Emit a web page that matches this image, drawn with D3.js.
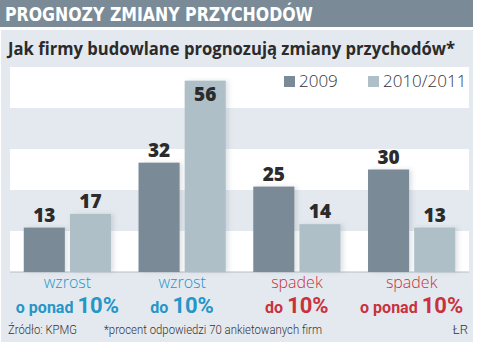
<!DOCTYPE html>
<html>
<head>
<meta charset="utf-8">
<script src="https://cdn.jsdelivr.net/npm/d3@7"></script>
<style>
  body { margin: 0; background: #ffffff; }
  svg { display: block; }
</style>
</head>
<body>
<div id="chart"></div>
<script>
// Revenue forecasts of construction firms (% of answers)
const categories = ["wzrost|o ponad", "wzrost|do", "spadek|do", "spadek|o ponad"];
const catTop = ["wzrost", "wzrost", "spadek", "spadek"];
const catBottom = ["o ponad", "do", "do", "o ponad"];
const catColors = ["#2496c8", "#2496c8", "#c9323d", "#c9323d"];
const seriesNames = ["2009", "2010/2011"];
const values2009 = [13, 32, 25, 30];
const values2010 = [17, 56, 14, 13];
const bandTicks = [0, 12, 24, 36, 48, 60];

const width = 478, height = 346;
const plot = { left: 10, right: 469, top: 67, bottom: 272 };
const seriesColors = ["#7a8b97", "#aebfc8"];

const svg = d3.select("#chart")
  .append("svg")
  .attr("width", width)
  .attr("height", height);

// soft shadow to the right of the bars
const defs = svg.append("defs");
const shadow = defs.append("filter")
  .attr("id", "bar-shadow")
  .attr("x", "-20%").attr("y", "-20%")
  .attr("width", "150%").attr("height", "140%");
shadow.append("feDropShadow")
  .attr("dx", 3).attr("dy", 0)
  .attr("stdDeviation", 2)
  .attr("flood-color", "#5a6b78")
  .attr("flood-opacity", 0.18);

// header bar
svg.append("rect")
  .attr("x", 0).attr("y", 0)
  .attr("width", 473).attr("height", 27)
  .attr("fill", "#7a8b97");

svg.append("text")
  .attr("x", 5).attr("y", 21)
  .attr("textLength", 308)
  .attr("lengthAdjust", "spacingAndGlyphs")
  .style("font-family", "'DejaVu Sans Condensed', 'Liberation Sans Narrow', sans-serif")
  .style("font-weight", "bold")
  .style("font-size", "20px")
  .style("fill", "#ffffff")
  .text("PROGNOZY ZMIANY PRZYCHODÓW");

// background panel
svg.append("rect")
  .attr("x", 1).attr("y", 30)
  .attr("width", 472).attr("height", 312)
  .attr("fill", "#e4e9ef");

svg.append("text")
  .attr("x", 8).attr("y", 55)
  .attr("textLength", 447)
  .attr("lengthAdjust", "spacingAndGlyphs")
  .style("font-family", "'Open Sans', 'DejaVu Sans', sans-serif")
  .style("font-weight", 700)
  .style("font-size", "17px")
  .style("fill", "#2b2b2b")
  .text("Jak firmy budowlane prognozują zmiany przychodów*");

// scales
const y = d3.scaleLinear()
  .domain([0, 60])
  .range([plot.bottom, plot.top]);

const x0 = d3.scaleBand()
  .domain(categories)
  .range([plot.left, plot.right])
  .paddingInner(0.24)
  .paddingOuter(0.12);

const x1 = d3.scaleBand()
  .domain(seriesNames)
  .range([0, x0.bandwidth()])
  .paddingInner(0.11);

// alternating horizontal bands
svg.append("g")
  .selectAll("rect")
  .data(d3.pairs(bandTicks))
  .join("rect")
  .attr("x", plot.left)
  .attr("width", plot.right - plot.left)
  .attr("y", d => y(d[1]))
  .attr("height", d => y(d[0]) - y(d[1]))
  .attr("fill", (d, i) => (i % 2 === 0 ? "#ffffff" : "#e4e9ef"));

// baseline
svg.append("line")
  .attr("x1", plot.left).attr("x2", plot.right)
  .attr("y1", y(0)).attr("y2", y(0))
  .attr("stroke", "#b4bec6")
  .attr("stroke-width", 1);

// bars
const rows = categories.map((c, i) => ({
  cat: c,
  vals: [
    { key: seriesNames[0], v: values2009[i], color: seriesColors[0] },
    { key: seriesNames[1], v: values2010[i], color: seriesColors[1] }
  ]
}));

const groups = svg.append("g")
  .selectAll("g")
  .data(rows)
  .join("g")
  .attr("transform", d => `translate(${x0(d.cat)},0)`);

groups.selectAll("rect")
  .data(d => d.vals)
  .join("rect")
  .attr("x", d => x1(d.key))
  .attr("width", x1.bandwidth())
  .attr("y", d => y(d.v))
  .attr("height", d => y(0) - y(d.v))
  .attr("fill", d => d.color)
  .attr("filter", "url(#bar-shadow)");

// value labels; a label that would leave the plot goes inside the bar
groups.selectAll("text")
  .data(d => d.vals)
  .join("text")
  .attr("x", d => x1(d.key) + x1.bandwidth() / 2)
  .attr("y", d => (y(d.v) - 20 < plot.top ? y(d.v) + 20 : y(d.v) - 6))
  .attr("text-anchor", "middle")
  .style("font-family", "'Open Sans', 'DejaVu Sans', sans-serif")
  .style("font-weight", 800)
  .style("font-size", "19px")
  .style("fill", "#2b2b2b")
  .text(d => d.v);

// legend
const legend = svg.append("g")
  .selectAll("g")
  .data(seriesNames)
  .join("g")
  .attr("transform", (d, i) => `translate(${[284, 368][i]},76)`);

legend.append("rect")
  .attr("width", 11).attr("height", 11)
  .attr("fill", (d, i) => seriesColors[i]);

legend.append("text")
  .attr("x", 15).attr("y", 11)
  .style("font-family", "'Open Sans', 'DejaVu Sans', sans-serif")
  .style("font-weight", 300)
  .style("font-size", "17px")
  .style("fill", "#333333")
  .text(d => d);

// category labels
const catLabels = svg.append("g")
  .selectAll("g")
  .data(categories)
  .join("g")
  .attr("transform", d => `translate(${x0(d) + x0.bandwidth() / 2},0)`);

catLabels.append("text")
  .attr("y", 288)
  .attr("text-anchor", "middle")
  .style("font-family", "'Open Sans', 'DejaVu Sans', sans-serif")
  .style("font-weight", 300)
  .style("font-size", "16px")
  .style("fill", (d, i) => catColors[i])
  .text((d, i) => catTop[i]);

const bottomLine = catLabels.append("text")
  .attr("y", 313)
  .attr("text-anchor", "middle")
  .style("font-family", "Roboto, 'Open Sans', sans-serif")
  .style("font-weight", 700)
  .style("fill", (d, i) => catColors[i]);

bottomLine.append("tspan")
  .style("font-size", "16px")
  .text((d, i) => catBottom[i] + " ");

bottomLine.append("tspan")
  .style("font-size", "22px")
  .text("10%");

// footer
const footer = svg.append("g")
  .style("font-family", "Roboto, 'Open Sans', sans-serif")
  .style("font-weight", 300)
  .style("font-size", "13px")
  .style("fill", "#333333");

footer.append("text").attr("x", 8).attr("y", 334)
  .attr("textLength", 69).attr("lengthAdjust", "spacingAndGlyphs")
  .text("Źródło: KPMG");
footer.append("text").attr("x", 104).attr("y", 334)
  .attr("textLength", 218).attr("lengthAdjust", "spacingAndGlyphs")
  .text("*procent odpowiedzi 70 ankietowanych firm");
footer.append("text").attr("x", 468).attr("y", 334).attr("text-anchor", "end").text("ŁR");
</script>
</body>
</html>
